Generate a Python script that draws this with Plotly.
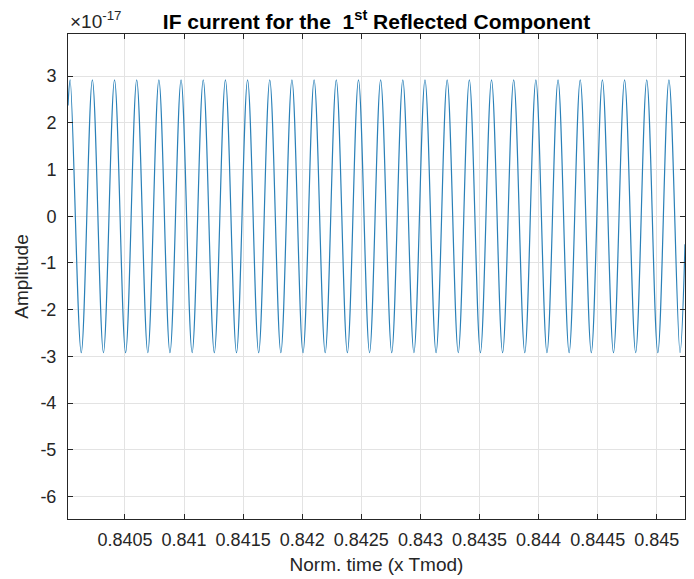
import plotly.graph_objects as go

# values (time in units of Tmod, amplitude in A)
start_time, start_value = 0.840018, 2.37e-17
end_time, end_value = 0.845239, -0.60e-17
peak_amp = 2.92e-17

peak_times = [
    0.8400364, 0.8402241, 0.8404117, 0.8405994, 0.8407870, 0.8409747, 0.8411623,
    0.8413500, 0.8415376, 0.8417253, 0.8419129, 0.8421006, 0.8422882, 0.8424759,
    0.8426635, 0.8428512, 0.8430388, 0.8432265, 0.8434141, 0.8436018, 0.8437894,
    0.8439771, 0.8441647, 0.8443524, 0.8445400, 0.8447277, 0.8449153, 0.8451030,
]
trough_times = [
    0.8401302, 0.8403179, 0.8405055, 0.8406932, 0.8408808, 0.8410685, 0.8412561,
    0.8414438, 0.8416314, 0.8418191, 0.8420067, 0.8421944, 0.8423820, 0.8425697,
    0.8427573, 0.8429450, 0.8431326, 0.8433203, 0.8435079, 0.8436956, 0.8438832,
    0.8440709, 0.8442585, 0.8444462, 0.8446338, 0.8448215, 0.8450091, 0.8451968,
]

x_ticks = [0.8405, 0.841, 0.8415, 0.842, 0.8425, 0.843, 0.8435, 0.844, 0.8445, 0.845]
x_labels = ["0.8405", "0.841", "0.8415", "0.842", "0.8425", "0.843",
            "0.8435", "0.844", "0.8445", "0.845"]
y_ticks = [3e-17, 2e-17, 1e-17, 0, -1e-17, -2e-17, -3e-17, -4e-17, -5e-17, -6e-17]
y_labels = ["3", "2", "1", "0", "-1", "-2", "-3", "-4", "-5", "-6"]

pts = [(start_time, start_value), (end_time, end_value)]
pts += [(t, peak_amp) for t in peak_times]
pts += [(t, -peak_amp) for t in trough_times]
pts.sort()
xs = [p[0] for p in pts]
ys = [p[1] for p in pts]

ink = "#262626"
font = "Liberation Sans, Arial, sans-serif"

fig = go.Figure()
fig.add_trace(go.Scatter(x=xs, y=ys, mode="lines",
                         line=dict(color="#2a80b8", width=1.2, shape="spline", smoothing=1.0),
                         showlegend=False, hoverinfo="skip"))

axis_common = dict(showline=True, linecolor=ink, linewidth=1, mirror="ticks",
                   ticks="inside", ticklen=5, tickcolor=ink, automargin=False,
                   showgrid=True, gridcolor="#e3e3e3", gridwidth=1, zeroline=False,
                   tickfont=dict(family=font, size=18, color=ink))

fig.update_xaxes(range=[0.840018, 0.845239], tickvals=x_ticks, ticktext=x_labels,
                 ticklabelstandoff=4,
                 title=dict(text="Norm. time (x Tmod)", standoff=9,
                            font=dict(family=font, size=19, color=ink)),
                 **axis_common)
fig.update_yaxes(range=[-6.48e-17, 3.9e-17], tickvals=y_ticks, ticktext=y_labels,
                 ticklabelstandoff=7,
                 title=dict(text="Amplitude", standoff=6,
                            font=dict(family=font, size=19, color=ink)),
                 **axis_common)

# page body adds an 8px offset, margins compensate for it
fig.update_layout(
    width=694, height=579,
    margin=dict(l=60, r=17, t=26, b=68),
    plot_bgcolor="white", paper_bgcolor="white",
    title=dict(text="<b>IF current for the  1<sup>st</sup> Reflected Component</b>",
               x=0.5, xref="paper", y=0.977, yanchor="middle",
               font=dict(family=font, size=21, color="black")),
)
fig.add_annotation(text="×10<sup>-17</sup>", xref="paper", yref="paper",
                   x=0, y=1, xanchor="left", yanchor="bottom", showarrow=False,
                   yshift=0, font=dict(family=font, size=19, color=ink))

fig.write_html("out.html")
